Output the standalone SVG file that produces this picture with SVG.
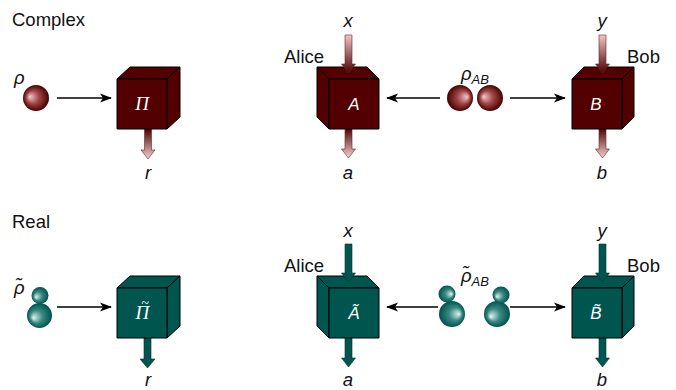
<svg xmlns="http://www.w3.org/2000/svg" width="676" height="390" viewBox="0 0 676 390">
  <style>
    .lbl { font-family: "Liberation Sans", Arial, sans-serif; font-size: 18.5px; fill: #111; }
    .it { font-style: italic; }
    .sub { font-size: 13px; }
    .boxlbl { font-family: "Liberation Sans", Arial, sans-serif; font-style: italic; font-size: 17px; fill: #fff; text-anchor: middle; }
    .pi { font-family: "Liberation Serif", "Times New Roman", serif; font-style: italic; font-size: 19px; fill: #fff; }
    .mid { text-anchor: middle; }
    .red { fill: #520000; stroke: #000; stroke-width: 1; stroke-linejoin: round; }
    .teal { fill: #00554f; stroke: #000; stroke-width: 1; stroke-linejoin: round; }
    .conn { stroke: #000; stroke-width: 1.7; fill: none; marker-end: url(#head); }
    .inR { fill: url(#gIn); stroke: #5a2a2a; stroke-width: 0.6; }
    .outR { fill: url(#gOut); stroke: #5a2a2a; stroke-width: 0.6; }
    .tArr { fill: #00554f; stroke: #003330; stroke-width: 0.6; }
  </style>
  <defs>
    <marker id="head" markerWidth="12" markerHeight="10" refX="11" refY="5" orient="auto" markerUnits="userSpaceOnUse">
      <path d="M0,0.5 L12,5 L0,9.5 L3,5 Z" fill="#000"/>
    </marker>
    <linearGradient id="gIn" x1="0" y1="0" x2="0" y2="1">
      <stop offset="0" stop-color="#f4c4c4"/>
      <stop offset="1" stop-color="#4a0000"/>
    </linearGradient>
    <linearGradient id="gOut" x1="0" y1="0" x2="0" y2="1">
      <stop offset="0" stop-color="#4a0000"/>
      <stop offset="1" stop-color="#f8d0d0"/>
    </linearGradient>
    <!-- sphere shading: highlight left / right -->
    <radialGradient id="sRL" cx="0.5" cy="0.5" r="0.5" fx="0.25" fy="0.45">
      <stop offset="0" stop-color="#f8c8c8"/>
      <stop offset="0.5" stop-color="#a04545"/>
      <stop offset="1" stop-color="#480000"/>
    </radialGradient>
    <radialGradient id="sRR" cx="0.5" cy="0.5" r="0.5" fx="0.78" fy="0.45">
      <stop offset="0" stop-color="#f8c8c8"/>
      <stop offset="0.5" stop-color="#a04545"/>
      <stop offset="1" stop-color="#480000"/>
    </radialGradient>
    <radialGradient id="sTL" cx="0.5" cy="0.5" r="0.5" fx="0.25" fy="0.6">
      <stop offset="0" stop-color="#e8f4f2"/>
      <stop offset="0.5" stop-color="#3a8a84"/>
      <stop offset="1" stop-color="#00524c"/>
    </radialGradient>
    <radialGradient id="sTR" cx="0.5" cy="0.5" r="0.5" fx="0.78" fy="0.5">
      <stop offset="0" stop-color="#e8f4f2"/>
      <stop offset="0.5" stop-color="#3a8a84"/>
      <stop offset="1" stop-color="#00524c"/>
    </radialGradient>
  </defs>

  <rect width="676" height="390" fill="#fff"/>

  <!-- section titles -->
  <text class="lbl" x="12" y="26">Complex</text>
  <text class="lbl" x="12" y="228">Real</text>

  <!-- connectors -->
  <g id="connectors">
    <line class="conn" x1="57" y1="98" x2="111" y2="98"/>
    <line class="conn" x1="440" y1="98" x2="387" y2="98"/>
    <line class="conn" x1="510" y1="98" x2="565" y2="98"/>
    <line class="conn" x1="57" y1="307" x2="111" y2="307"/>
    <line class="conn" x1="438" y1="307" x2="387" y2="307"/>
    <line class="conn" x1="510" y1="307" x2="565" y2="307"/>
  </g>

  <!-- ===== complex row ===== -->
  <g id="rho">
    <circle cx="36" cy="98" r="13" fill="url(#sRL)"/>
    <text class="lbl it" x="14" y="84">ρ</text>
  </g>

  <g id="Pi">
    <path class="outR" d="M144.5,129 H151.5 V150 H155 L148,159 L141,150 H144.5 Z"/>
    <polygon class="red" points="117,79 130,67 180,67 167,79"/>
    <polygon class="red" points="167,79 180,67 180,117 167,129"/>
    <rect class="red" x="117" y="79" width="50" height="50"/>
    <text class="pi mid" x="142" y="110">Π</text>
    <text class="lbl it mid" x="148" y="179">r</text>
  </g>

  <g id="Alice">
    <path class="outR" d="M345,128 H352 V149 H355.5 L348.5,158 L341.5,149 H345 Z"/>
    <polygon class="red" points="329,79 317,67 367,67 379,79"/>
    <polygon class="red" points="317,67 329,79 329,129 317,117"/>
    <rect class="red" x="329" y="79" width="50" height="50"/>
    <path class="inR" d="M345,35 H352 V64 H355.5 L348.5,73 L341.5,64 H345 Z"/>
    <text class="boxlbl" x="354" y="110">A</text>
    <text class="lbl it mid" x="348" y="27">x</text>
    <text class="lbl it mid" x="348" y="179">a</text>
    <text class="lbl" x="284" y="63">Alice</text>
  </g>

  <g id="rhoAB">
    <circle cx="460" cy="98" r="13" fill="url(#sRR)"/>
    <circle cx="490" cy="98" r="13" fill="url(#sRL)"/>
    <text class="lbl it" x="461" y="80">ρ<tspan class="sub" dy="4">AB</tspan></text>
  </g>

  <g id="Bob">
    <path class="outR" d="M599,128 H606 V149 H609.5 L602.5,158 L595.5,149 H599 Z"/>
    <polygon class="red" points="572,79 584,67 634,67 622,79"/>
    <polygon class="red" points="622,79 634,67 634,117 622,129"/>
    <rect class="red" x="572" y="79" width="50" height="50"/>
    <path class="inR" d="M599,35 H606 V64 H609.5 L602.5,73 L595.5,64 H599 Z"/>
    <text class="boxlbl" x="596" y="110">B</text>
    <text class="lbl it mid" x="602" y="27">y</text>
    <text class="lbl it mid" x="602" y="179">b</text>
    <text class="lbl" x="627" y="63">Bob</text>
  </g>

  <!-- ===== real row ===== -->
  <g id="rhoT">
    <circle cx="39.5" cy="315.5" r="12.5" fill="url(#sTL)"/>
    <circle cx="40" cy="295.5" r="8.5" fill="url(#sTL)"/>
    <text class="lbl it" x="14" y="294">ρ̃</text>
  </g>

  <g id="PiT">
    <path class="tArr" d="M144,338 H151 V359 H155 L147.5,368 L140,359 H144 Z"/>
    <polygon class="teal" points="117,288 130,276 180,276 167,288"/>
    <polygon class="teal" points="167,288 180,276 180,326 167,338"/>
    <rect class="teal" x="117" y="288" width="50" height="50"/>
    <!-- Pi with a tilde set above it -->
    <text class="pi" x="135.6" y="319">Π<tspan dx="-8.1" dy="-11" style="font-size:14px">~</tspan></text>
    <text class="lbl it mid" x="148" y="386">r</text>
  </g>

  <g id="AliceT">
    <path class="tArr" d="M345,337 H352 V358 H355.5 L348.5,367 L341.5,358 H345 Z"/>
    <polygon class="teal" points="329,288 317,276 367,276 379,288"/>
    <polygon class="teal" points="317,276 329,288 329,338 317,326"/>
    <rect class="teal" x="329" y="288" width="50" height="50"/>
    <path class="tArr" d="M345,244 H352 V273 H355.5 L348.5,282 L341.5,273 H345 Z"/>
    <text class="boxlbl" x="354" y="319">Ã</text>
    <text class="lbl it mid" x="348" y="237">x</text>
    <text class="lbl it mid" x="348" y="386">a</text>
    <text class="lbl" x="284" y="272">Alice</text>
  </g>

  <g id="rhoABT">
    <circle cx="452" cy="314" r="13" fill="url(#sTR)"/>
    <circle cx="447" cy="294" r="8.5" fill="url(#sTR)"/>
    <circle cx="497" cy="314" r="13" fill="url(#sTL)"/>
    <circle cx="501" cy="295" r="8.5" fill="url(#sTL)"/>
    <text class="lbl it" x="461" y="282">ρ̃<tspan class="sub" dy="4">AB</tspan></text>
  </g>

  <g id="BobT">
    <path class="tArr" d="M599,337 H606 V358 H609.5 L602.5,367 L595.5,358 H599 Z"/>
    <polygon class="teal" points="572,288 584,276 634,276 622,288"/>
    <polygon class="teal" points="622,288 634,276 634,326 622,338"/>
    <rect class="teal" x="572" y="288" width="50" height="50"/>
    <path class="tArr" d="M599,244 H606 V273 H609.5 L602.5,282 L595.5,273 H599 Z"/>
    <text class="boxlbl" x="596" y="319">B̃</text>
    <text class="lbl it mid" x="602" y="237">y</text>
    <text class="lbl it mid" x="602" y="386">b</text>
    <text class="lbl" x="627" y="272">Bob</text>
  </g>
</svg>
